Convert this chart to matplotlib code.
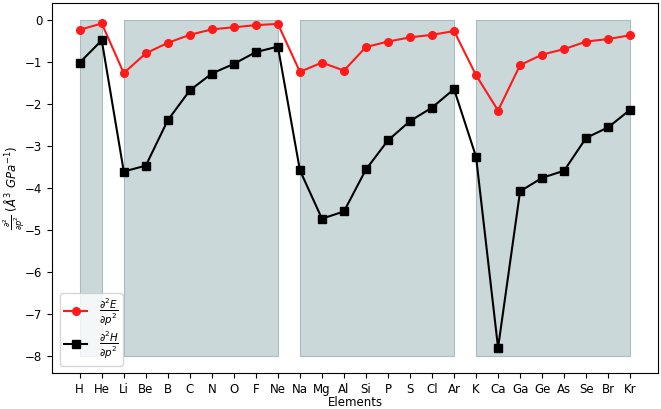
import numpy as np
import matplotlib
matplotlib.use("Agg")
import matplotlib.pyplot as plt

# --------------------------------------------------
# Data
# --------------------------------------------------

elements = ["H", "He", "Li", "Be", "B", "C", "N", "O", "F", "Ne",
            "Na", "Mg", "Al", "Si", "P", "S", "Cl", "Ar",
            "K", "Ca", "Ga", "Ge", "As", "Se", "Br", "Kr"]

d2E = [-0.24, -0.09, -1.27, -0.80, -0.55, -0.36, -0.23, -0.18, -0.13, -0.10,
       -1.24, -1.02, -1.21, -0.65, -0.52, -0.42, -0.36, -0.27,
       -1.32, -2.16, -1.08, -0.83, -0.70, -0.52, -0.46, -0.37]

d2H = [-1.02, -0.49, -3.61, -3.47, -2.39, -1.68, -1.28, -1.05, -0.77, -0.64,
       -3.58, -4.73, -4.56, -3.56, -2.87, -2.41, -2.09, -1.65,
       -3.26, -7.80, -4.08, -3.76, -3.59, -2.81, -2.56, -2.14]

# shaded periods (first, last element index)
periods = [(0, 1), (2, 9), (10, 17), (18, 25)]
shade_top = 0
shade_bottom = -8

# --------------------------------------------------
# Plot
# --------------------------------------------------

plt.rcParams["font.size"] = 8.5

fig = plt.figure(figsize=(6.61, 4.09), dpi=100)
ax = fig.add_subplot(111)
fig.subplots_adjust(left=0.079, right=0.995, top=0.993, bottom=0.088)

x = np.arange(len(elements))

for a, b in periods:
    ax.fill_between([a, b], shade_bottom, shade_top,
                    facecolor="#cad8da", edgecolor="#a9bcc0", linewidth=0.8)

ax.plot(x, d2E, color="#ff1a1a", marker="o", markersize=5.5,
        linewidth=1.5, label=r"$\frac{\partial^2 E}{\partial p^2}$")
ax.plot(x, d2H, color="black", marker="s", markersize=5.5,
        linewidth=1.5, label=r"$\frac{\partial^2 H}{\partial p^2}$")

ax.set_xticks(x)
ax.set_xticklabels(elements)
ax.set_xlabel("Elements", labelpad=0.5)
ax.set_ylabel(r"$\frac{\partial^2}{\partial p^2}$ ($\AA^3\ GPa^{-1}$)")
ax.yaxis.set_label_coords(-0.042, 0.5)

ax.legend(loc="lower left", fontsize=10.5, handlelength=1.6,
          handletextpad=0.8, borderpad=0.3, labelspacing=0.15)

plt.savefig("out.png", dpi=100)
